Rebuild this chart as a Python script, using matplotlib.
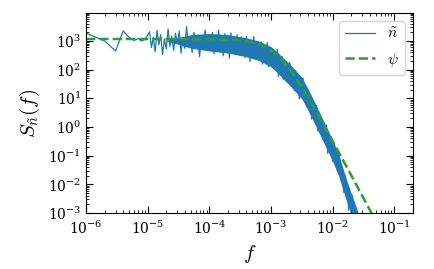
import matplotlib
matplotlib.use("Agg")
import matplotlib.pyplot as plt
from matplotlib.ticker import LogLocator, NullFormatter
import numpy as np

plt.rcParams["mathtext.fontset"] = "cm"
plt.rcParams["font.family"] = "serif"
plt.rcParams["font.serif"] = ["DejaVu Serif"]

BLUE = "#1f77b4"
GREEN = "#2ca02c"

spec_logf = [
    -6.0, -5.699, -5.523, -5.398, -5.301, -5.222, -5.155, -5.097, -5.046,
    -4.97, -4.94, -4.91, -4.88, -4.85, -4.82, -4.79, -4.76, -4.73, -4.70,
    -4.67, -4.64, -4.61, -4.58, -4.55, -4.52, -4.49, -4.46, -4.43, -4.40,
    -4.37, -4.34, -4.31, -4.28, -4.25, -4.22, -4.19, -4.16, -4.13, -4.10,
    -4.07, -4.04, -4.01,
    -3.975, -3.95, -3.925, -3.90, -3.875, -3.85, -3.825, -3.80, -3.775, -3.75,
    -3.725, -3.70, -3.675, -3.65, -3.625, -3.60, -3.575, -3.55, -3.525, -3.50,
    -3.48, -3.46, -3.44, -3.42, -3.40, -3.38, -3.36, -3.34, -3.32, -3.30,
    -3.28, -3.26, -3.24, -3.22, -3.20, -3.18, -3.16, -3.14, -3.12, -3.10,
    -3.08, -3.06, -3.04, -3.02, -3.00, -2.98, -2.96, -2.94, -2.92, -2.90,
    -2.88, -2.86, -2.84, -2.82, -2.80, -2.78, -2.76, -2.74, -2.72, -2.70,
    -2.68, -2.66, -2.64, -2.62, -2.60, -2.58, -2.56, -2.54, -2.52, -2.50,
    -2.48, -2.46, -2.44, -2.42, -2.40, -2.38, -2.36, -2.34, -2.32, -2.30,
    -2.28, -2.26, -2.24, -2.22, -2.20, -2.18, -2.16, -2.14, -2.12, -2.10,
    -2.08, -2.06, -2.04, -2.02, -2.00, -1.98, -1.96, -1.94, -1.92, -1.90,
    -1.88, -1.86, -1.84, -1.82, -1.80, -1.78, -1.76, -1.74, -1.72, -1.70,
    -1.68, -1.66, -1.64, -1.62, -1.60, -1.58, -1.56, -1.54, -1.52, -1.50,
]
spec_logs = [
    3.27, 3.00, 2.65, 3.35, 3.12, 3.02, 3.08, 3.00, 3.05,
    3.32, 2.77, 3.12, 2.62, 3.37, 2.87, 3.22, 2.52, 3.07, 2.72,
    3.42, 2.82, 3.17, 2.67, 3.27, 2.92, 3.34, 2.57, 3.10, 2.74,
    3.50, 2.80, 3.15, 2.60, 3.30, 2.90, 3.20, 2.45, 3.05, 2.75,
    3.38, 2.78, 3.12,
    2.70, 3.30, 2.55, 3.20, 2.78, 3.38, 2.62, 3.10, 2.48, 3.25,
    2.70, 3.15, 2.40, 3.28, 2.65, 3.05, 2.52, 3.22, 2.60, 3.10,
    3.14, 2.58, 2.93, 2.42, 3.16, 2.65, 2.99, 2.28, 2.82, 2.46,
    3.15, 2.54, 2.87, 2.36, 2.94, 2.57, 2.97, 2.19, 2.70, 2.32,
    2.38, 2.94, 2.11, 2.63, 2.40, 2.74, 2.05, 2.59, 2.18, 2.71,
    1.76, 2.25, 1.90, 2.46, 1.66, 2.20, 1.86, 2.22, 1.58, 2.26,
    2.11, 1.51, 1.82, 1.27, 1.97, 1.42, 1.72, 0.98, 1.48, 1.08,
    1.70, 1.02, 1.29, 0.71, 1.23, 0.79, 1.13, 0.27, 0.72, 0.27,
    0.26, 0.75, -0.14, 0.31, 0.02, 0.31, -0.43, 0.05, -0.41, 0.07,
    -0.92, -0.48, -0.87, -0.36, -1.20, -0.72, -1.13, -0.83, -1.54, -0.92,
    -1.16, -1.85, -1.64, -2.28, -1.67, -2.30, -2.07, -2.90, -2.47, -2.95,
    -2.37, -3.09, -2.86, -3.48, -3.00, -3.50, -3.23, -4.15, -3.77, -4.28,
]

# dense part of the spectrum: solid band between these edges (log10)
band_logf = [-4.7, -4.5, -4.3, -4.0, -3.7, -3.4, -3.2, -3.0, -2.9, -2.8, -2.7,
             -2.6, -2.5, -2.4, -2.3, -2.2, -2.1, -2.0, -1.9, -1.8, -1.7,
             -1.6, -1.5]
band_hi = [3.02, 3.12, 3.22, 3.26, 3.22, 3.11, 3.00, 2.80, 2.62, 2.40, 2.20,
           1.97, 1.73, 1.33, 0.90, 0.45, 0.00, -0.45, -0.97, -1.67, -2.30,
           -2.90, -3.65]
band_lo = [3.00, 2.88, 2.75, 2.65, 2.58, 2.45, 2.32, 2.10, 1.90, 1.67, 1.46,
           1.22, 0.98, 0.58, 0.15, -0.30, -0.75, -1.20, -1.72, -2.42, -3.05,
           -3.65, -4.40]

# --- fitted model psi ---
fit_f = [1e-6, 1e-5, 1e-4, 2e-4, 3e-4, 4e-4, 6e-4, 8e-4, 1e-3, 1.2e-3,
         1.5e-3, 2e-3, 2.5e-3, 3e-3, 4e-3, 5e-3, 7e-3, 1e-2, 1.5e-2,
         2e-2, 3e-2, 4.5e-2]
fit_s = [1170, 1170, 1156, 1117, 1055, 977, 795, 616, 462, 341,
         215, 103, 53, 29.2, 10.7, 4.69, 1.30, 0.323, 0.065,
         0.0207, 0.00411, 0.00081]

spec_f = [10 ** v for v in spec_logf]
spec_s = [10 ** v for v in spec_logs]
band_f = [10 ** v for v in band_logf]

fig = plt.figure(figsize=(4.35, 2.69), dpi=100)
ax = fig.add_axes([0.198, 0.208, 0.751, 0.744])

ax.fill_between(band_f, [10 ** v for v in band_lo], [10 ** v for v in band_hi],
                color=BLUE, lw=0)
ax.plot(spec_f, spec_s, color=BLUE, lw=0.9, label=r"$\tilde{n}$")
ax.plot(fit_f, fit_s, color=GREEN, lw=1.8, ls="--", label=r"$\psi$")

ax.set_xscale("log")
ax.set_yscale("log")
ax.set_xlim(1e-6, 0.2)
ax.set_ylim(1e-3, 9.5e3)

ax.xaxis.set_major_locator(LogLocator(base=10, numticks=20))
ax.yaxis.set_major_locator(LogLocator(base=10, numticks=20))
for axis in (ax.xaxis, ax.yaxis):
    axis.set_minor_locator(LogLocator(base=10, subs=np.arange(2, 10), numticks=100))
    axis.set_minor_formatter(NullFormatter())

ax.tick_params(which="both", direction="in", top=True, right=True, labelsize=10)
ax.tick_params(which="major", length=5)
ax.tick_params(which="minor", length=2.5)
ax.tick_params(axis="x", which="major", pad=5)

ax.set_xlabel(r"$f$", fontsize=15)
ax.set_ylabel(r"$S_{\tilde{n}}(f)$", fontsize=15)
ax.legend(loc="upper right", fontsize=11, labelspacing=0.6)

fig.savefig("out.png", dpi=100)
